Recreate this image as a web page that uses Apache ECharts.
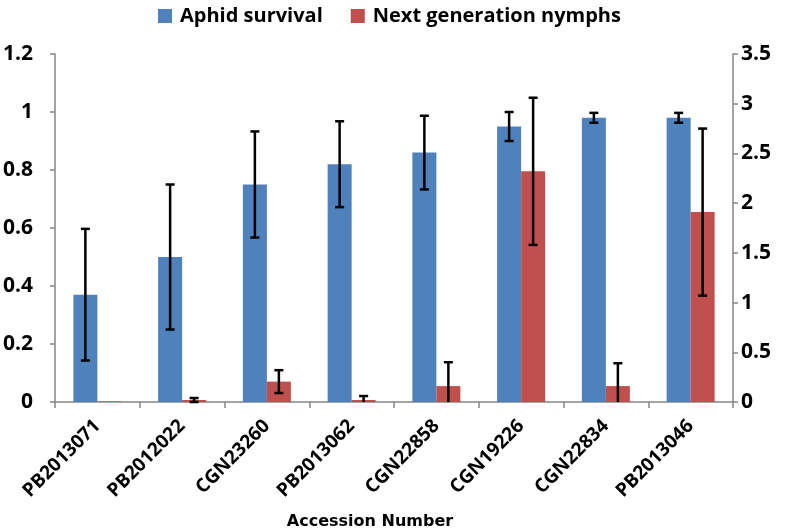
<!DOCTYPE html>
<html><head><meta charset="utf-8">
<script src="https://cdn.jsdelivr.net/npm/echarts@6/dist/echarts.min.js"></script>
<style>html,body{margin:0;padding:0;background:#fff}#c{width:787px;height:528px}</style>
</head><body><div id="c"></div>
<script>
const categories = ['PB2013071','PB2012022','CGN23260','PB2013062','CGN22858','CGN19226','CGN22834','PB2013046'];
const survival = [0.37, 0.50, 0.75, 0.82, 0.86, 0.95, 0.98, 0.98];
const survivalErr = [0.227, 0.25, 0.183, 0.148, 0.127, 0.05, 0.017, 0.017];
const nymphs = [0.005, 0.02, 0.205, 0.02, 0.16, 2.32, 0.16, 1.91];
const nymphsErr = [0, 0.02, 0.115, 0.04, 0.24, 0.74, 0.23, 0.84];
const leftTicks = [0, 0.2, 0.4, 0.6, 0.8, 1, 1.2];
const rightTicks = [0, 0.5, 1, 1.5, 2, 2.5, 3, 3.5];

const BLUE = '#4F81BD', RED = '#C0504D', AXIS = '#868686';
const BAR_W = 24;
const FONT = 'Open Sans';

function errData(vals, errs) {
  return vals.map((v, i) => [i, v - errs[i], v + errs[i]]);
}
function errRender(offset) {
  return function (params, api) {
    const i = api.value(0), lo = api.value(1), hi = api.value(2);
    if (hi - lo <= 0) return null;
    const top = api.coord([i, hi]);
    const bot = api.coord([i, Math.max(lo, 0)]);
    const x = top[0] + offset;
    const style = { stroke: '#000', lineWidth: 2.5 };
    const cap = 4.5;
    const children = [
      { type: 'line', shape: { x1: x, y1: top[1], x2: x, y2: bot[1] }, style },
      { type: 'line', shape: { x1: x - cap, y1: top[1], x2: x + cap, y2: top[1] }, style }
    ];
    if (lo >= 0) children.push({ type: 'line', shape: { x1: x - cap, y1: bot[1], x2: x + cap, y2: bot[1] }, style });
    return { type: 'group', children };
  };
}

const chart = echarts.init(document.getElementById('c'), null, { renderer: 'canvas' });
chart.setOption({
  animation: false,
  backgroundColor: '#fff',
  textStyle: { fontFamily: FONT },
  legend: {
    top: 1, left: 153, itemWidth: 14, itemHeight: 14, itemGap: 28,
    icon: 'rect',
    textStyle: { fontFamily: FONT, fontWeight: 'bold', fontSize: 20, color: '#000', padding: [0, 0, 0, 3] },
    data: ['Aphid survival', 'Next generation nymphs']
  },
  title: {
    text: 'Accession Number', left: 370, top: 514, textAlign: 'center', padding: 0,
    textStyle: { fontFamily: 'DejaVu Sans', fontWeight: 'bold', fontSize: 16, color: '#000' }
  },
  grid: { left: 53, right: 54, top: 54, bottom: 126, containLabel: false },
  xAxis: {
    type: 'category', data: categories,
    axisLine: { lineStyle: { color: AXIS, width: 1.5 } },
    axisTick: { show: true, length: 6, lineStyle: { color: AXIS, width: 1.5 } },
    axisLabel: { rotate: 45, interval: 0, margin: 21, color: '#000', fontFamily: FONT, fontWeight: 'bold', fontSize: 19 }
  },
  yAxis: [
    {
      type: 'value', min: 0, max: 1.2, interval: 0.2,
      splitLine: { show: false },
      axisLine: { show: true, lineStyle: { color: AXIS, width: 1.5 } },
      axisTick: { show: true, length: 5, lineStyle: { color: AXIS, width: 1.5 } },
      axisLabel: {
        margin: 22, color: '#000', fontFamily: FONT, fontWeight: 'bold', fontSize: 21,
        formatter: v => { const t = leftTicks.find(x => Math.abs(x - v) < 1e-9); return t === undefined ? '' : String(t); }
      }
    },
    {
      type: 'value', min: 0, max: 3.5, interval: 0.5, position: 'right',
      splitLine: { show: false },
      axisLine: { show: true, lineStyle: { color: AXIS, width: 1.5 } },
      axisTick: { show: true, length: 5, lineStyle: { color: AXIS, width: 1.5 } },
      axisLabel: {
        margin: 8, color: '#000', fontFamily: FONT, fontWeight: 'bold', fontSize: 21,
        formatter: v => { const t = rightTicks.find(x => Math.abs(x - v) < 1e-9); return t === undefined ? '' : String(t); }
      }
    }
  ],
  series: [
    { name: 'Aphid survival', type: 'bar', yAxisIndex: 0, data: survival, barWidth: BAR_W, barGap: '0%', itemStyle: { color: BLUE } },
    { name: 'Next generation nymphs', type: 'bar', yAxisIndex: 1, data: nymphs, barWidth: BAR_W, barGap: '0%', itemStyle: { color: RED } },
    { type: 'custom', yAxisIndex: 0, data: errData(survival, survivalErr), renderItem: errRender(-BAR_W / 2), encode: { x: 0, y: [1, 2] }, z: 5, silent: true },
    { type: 'custom', yAxisIndex: 1, data: errData(nymphs, nymphsErr), renderItem: errRender(BAR_W / 2), encode: { x: 0, y: [1, 2] }, z: 5, silent: true }
  ]
});
</script></body></html>
